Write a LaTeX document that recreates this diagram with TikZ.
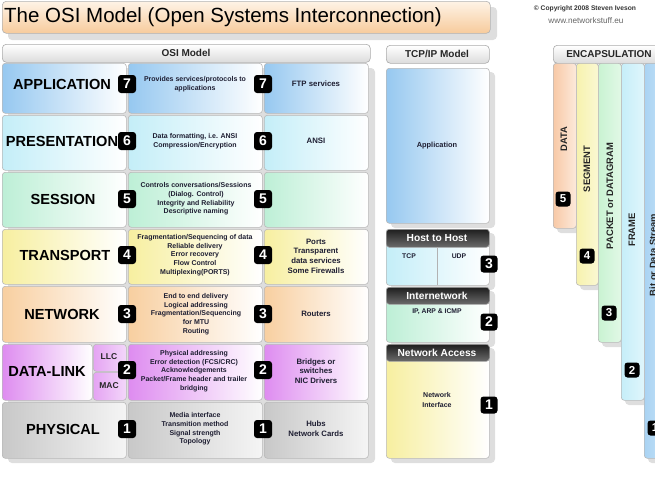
\documentclass[tikz,border=0pt]{standalone}
\usepackage{fontspec}
\setmainfont{Liberation Sans}
\newcommand\myfs[2]{\fontsize{#1}{#2}\selectfont}
\definecolor{cApp}{HTML}{96C8F0}
\definecolor{cPres}{HTML}{C4EEF8}
\definecolor{cSess}{HTML}{BDEFD6}
\definecolor{cTrans}{HTML}{F7EFA0}
\definecolor{cNet}{HTML}{F8CFA0}
\definecolor{cDL}{HTML}{DE8CF0}
\definecolor{cPhys}{HTML}{C8C8C8}
\definecolor{cData}{HTML}{F8C9A6}
\definecolor{cSeg}{HTML}{F7F2AE}
\definecolor{cPack}{HTML}{C9F3D2}
\definecolor{cFrame}{HTML}{C6EEF9}
\definecolor{cBit}{HTML}{A9D3F3}
\definecolor{titletop}{HTML}{FEF3E6}
\definecolor{titlebot}{HTML}{F7CB9C}
\definecolor{txt}{HTML}{1E1E32}
\begin{document}
\begin{tikzpicture}[x=1pt,y=-1pt,
  cellbase/.style={draw=gray!55, line width=0.6pt, rounded corners=3pt, inner sep=0pt, anchor=north west},
  shadowbox/.style={fill=black, opacity=0.13, rounded corners=4pt},
  headbar/.style={cellbase, top color=white, bottom color=gray!28, draw=gray!65, rounded corners=4pt},
  darkhead/.style={cellbase, top color=black!88, bottom color=black!58, draw=gray!70, rounded corners=3pt},
  badge/.style={fill=black, rounded corners=3pt, minimum width=18pt, minimum height=18pt, inner sep=0pt, text=white, font=\bfseries\myfs{14}{14}},
  sbadge/.style={badge, minimum width=15pt, minimum height=15pt, font=\bfseries\myfs{11.5}{11.5}},
  layername/.style={font=\bfseries\myfs{14.6}{16}, text=black, inner sep=0pt},
  desc/.style={font=\bfseries\myfs{7}{8.7}, text=txt, align=center, inner sep=0pt},
  exam/.style={font=\bfseries\myfs{7.8}{9.7}, text=txt, align=center, inner sep=0pt},
  headtxt/.style={font=\bfseries\myfs{10}{10}, text=black!85, inner sep=0pt},
  whitehead/.style={font=\bfseries\myfs{10.2}{10}, text=white, inner sep=0pt},
  tcptxt/.style={font=\bfseries\myfs{6.8}{9}, text=txt, align=center, inner sep=0pt},
  enctxt/.style={font=\bfseries\myfs{9.4}{10}, text=black!85, inner sep=0pt, rotate=90}
]
\useasboundingbox (0,0) rectangle (655,482);
\clip (0,0) rectangle (655,482);
\fill[white] (0,0) rectangle (655,482);

% ---------- title ----------
\fill[shadowbox] (8,7) rectangle (497,40);
\node[cellbase, top color=titletop, bottom color=titlebot, draw=gray!60, rounded corners=4pt, minimum width=488pt, minimum height=32pt] (titlebox) at (2,1) {};
\node[anchor=west, inner sep=0pt, font=\myfs{20.5}{22}] (title) at (4,17) {The OSI Model (Open Systems Interconnection)};
\node[inner sep=0pt, font=\bfseries\myfs{6.7}{7}, text=black!80] (copy1) at (585,9) {© Copyright 2008 Steven Iveson};
\node[inner sep=0pt, font=\myfs{8.2}{9}, text=black!60] (copy2) at (586,21) {www.networkstuff.eu};

% ---------- headers ----------
\node[headbar, minimum width=368pt, minimum height=18pt] (osihead) at (2,44) {};
\node[headtxt] (osiheadtxt) at (186,53) {OSI Model};
\node[headbar, minimum width=103pt, minimum height=18pt] (tcphead) at (386,45) {};
\node[headtxt] (tcpheadtxt) at (437,54) {TCP/IP Model};
\node[headbar, minimum width=120pt, minimum height=18pt] (enchead) at (553,45) {};
\node[headtxt] (encheadtxt) at (609,54) {ENCAPSULATION};

% ---------- OSI table shadow ----------
\fill[shadowbox] (8,68) rectangle (375,463);

% ---------- OSI rows ----------
% Application
\node[cellbase, left color=cApp, right color=white, minimum width=124pt, minimum height=50pt] (appn) at (2,63) {};
\node[cellbase, left color=cApp, right color=white, minimum width=134pt, minimum height=50pt] (appd) at (128,63) {};
\node[cellbase, left color=cApp, right color=white, minimum width=104pt, minimum height=50pt] (appe) at (264,63) {};
% Presentation
\node[cellbase, left color=cPres, right color=white, minimum width=124pt, minimum height=55pt] (presn) at (2,115) {};
\node[cellbase, left color=cPres, right color=white, minimum width=134pt, minimum height=55pt] (presd) at (128,115) {};
\node[cellbase, left color=cPres, right color=white, minimum width=104pt, minimum height=55pt] (prese) at (264,115) {};
% Session
\node[cellbase, left color=cSess, right color=white, minimum width=124pt, minimum height=55pt] (sessn) at (2,172) {};
\node[cellbase, left color=cSess, right color=white, minimum width=134pt, minimum height=55pt] (sessd) at (128,172) {};
\node[cellbase, left color=cSess, right color=white, minimum width=104pt, minimum height=55pt] (sesse) at (264,172) {};
% Transport
\node[cellbase, left color=cTrans, right color=white, minimum width=124pt, minimum height=55pt] (trann) at (2,229) {};
\node[cellbase, left color=cTrans, right color=white, minimum width=134pt, minimum height=55pt] (trand) at (128,229) {};
\node[cellbase, left color=cTrans, right color=white, minimum width=104pt, minimum height=55pt] (trane) at (264,229) {};
% Network
\node[cellbase, left color=cNet, right color=white, minimum width=124pt, minimum height=56pt] (netn) at (2,286) {};
\node[cellbase, left color=cNet, right color=white, minimum width=134pt, minimum height=56pt] (netd) at (128,286) {};
\node[cellbase, left color=cNet, right color=white, minimum width=104pt, minimum height=56pt] (nete) at (264,286) {};
% Data-link
\node[cellbase, left color=cDL, right color=white, minimum width=90pt, minimum height=56pt] (dln) at (2,344) {};
\node[cellbase, left color=cDL!80, right color=cDL!35, minimum width=33pt, minimum height=27pt] (llc) at (93,344) {};
\node[cellbase, left color=cDL!80, right color=cDL!35, minimum width=33pt, minimum height=28pt] (mac) at (93,372) {};
\node[cellbase, left color=cDL, right color=white, minimum width=134pt, minimum height=56pt] (dld) at (128,344) {};
\node[cellbase, left color=cDL, right color=white, minimum width=104pt, minimum height=56pt] (dle) at (264,344) {};
% Physical
\node[cellbase, left color=cPhys, right color=gray!8, minimum width=124pt, minimum height=56pt] (physn) at (2,402) {};
\node[cellbase, left color=cPhys, right color=gray!8, minimum width=134pt, minimum height=56pt] (physd) at (128,402) {};
\node[cellbase, left color=cPhys, right color=gray!8, minimum width=104pt, minimum height=56pt] (physe) at (264,402) {};

% layer names
\node[layername] (tapp) at (62,84) {APPLICATION};
\node[layername] (tpres) at (62,141) {PRESENTATION};
\node[layername] (tsess) at (63,199) {SESSION};
\node[layername] (ttran) at (65,255) {TRANSPORT};
\node[layername] (tnet) at (62,314) {NETWORK};
\node[layername] (tdl) at (47,371) {DATA-LINK};
\node[layername] (tphys) at (63,429) {PHYSICAL};
\node[font=\bfseries\myfs{8.5}{9}, text=black!85, inner sep=0pt] (tllc) at (109,357) {LLC};
\node[font=\bfseries\myfs{8.5}{9}, text=black!85, inner sep=0pt] (tmac) at (109,386) {MAC};

% descriptions
\node[desc] (dapp) at (195,84) {Provides services/protocols to\\applications};
\node[desc] (dpres) at (195,141) {Data formatting, i.e. ANSI\\Compression/Encryption};
\node[desc] (dsess) at (196,199) {Controls conversations/Sessions\\(Dialog. Control)\\Integrity and Reliability\\Descriptive naming};
\node[desc] (dtran) at (195,255) {Fragmentation/Sequencing of data\\Reliable delivery\\Error recovery\\Flow Control\\Multiplexing(PORTS)};
\node[desc] (dnet) at (196,314) {End to end delivery\\Logical addressing\\Fragmentation/Sequencing\\for MTU\\Routing};
\node[desc] (ddl) at (194,371) {Physical addressing\\Error detection (FCS/CRC)\\Acknowledgements\\Packet/Frame header and trailer\\bridging};
\node[desc] (dphys) at (195,429) {Media interface\\Transmition method\\Signal strength\\Topology};

% examples
\node[exam] (eapp) at (316,84) {FTP services};
\node[exam] (epres) at (316,141) {ANSI};
\node[exam] (etran) at (316,256) {Ports\\Transparent\\data services\\Some Firewalls};
\node[exam] (enet) at (316,314) {Routers};
\node[exam] (edl) at (316,371) {Bridges or\\switches\\NIC Drivers};
\node[exam] (ephys) at (316,429) {Hubs\\Network Cards};

% badges
\node[badge] (b7a) at (127,84) {7};
\node[badge] (b7b) at (263,84) {7};
\node[badge] (b6a) at (127,141) {6};
\node[badge] (b6b) at (263,141) {6};
\node[badge] (b5a) at (127,199) {5};
\node[badge] (b5b) at (263,199) {5};
\node[badge] (b4a) at (127,255) {4};
\node[badge] (b4b) at (263,255) {4};
\node[badge] (b3a) at (127,314) {3};
\node[badge] (b3b) at (263,314) {3};
\node[badge] (b2a) at (127,370) {2};
\node[badge] (b2b) at (263,370) {2};
\node[badge] (b1a) at (127,429) {1};
\node[badge] (b1b) at (263,429) {1};

% ---------- TCP/IP model ----------
\fill[shadowbox] (391,72) rectangle (495,228);
\fill[shadowbox] (391,233) rectangle (495,290);
\fill[shadowbox] (391,291) rectangle (495,347);
\fill[shadowbox] (391,348) rectangle (495,463);
\node[cellbase, left color=cApp, right color=white, minimum width=103pt, minimum height=155pt] (tcpapp) at (386,68) {};
\node[tcptxt, font=\bfseries\myfs{7.4}{9}] (tcpapptxt) at (437,146) {Application};

\node[cellbase, left color=cPres, right color=white, minimum width=103pt, minimum height=56pt] (hostbox) at (386,229) {};
\node[darkhead, minimum width=103pt, minimum height=18pt] (hosthead) at (386,229) {};
\node[whitehead] (hostheadtxt) at (437,238.5) {Host to Host};
\coordinate (splittop) at (437,247);
\coordinate (splitbot) at (437,285);
\draw[gray!60, line width=0.6pt] (splittop) -- (splitbot);
\node[tcptxt] (ttcp) at (409,256) {TCP};
\node[tcptxt] (tudp) at (459,256) {UDP};

\node[cellbase, left color=cSess, right color=white, minimum width=103pt, minimum height=55pt] (interbox) at (386,287) {};
\node[darkhead, minimum width=103pt, minimum height=17pt] (interhead) at (386,287) {};
\node[whitehead] (interheadtxt) at (437,295.5) {Internetwork};
\node[tcptxt] (tip) at (437,312) {IP, ARP \& ICMP};

\node[cellbase, left color=cTrans, right color=white, minimum width=103pt, minimum height=114pt] (accbox) at (386,344) {};
\node[darkhead, minimum width=103pt, minimum height=17pt] (acchead) at (386,344) {};
\node[whitehead] (accheadtxt) at (437,352.5) {Network Access};
\node[tcptxt, font=\bfseries\myfs{7}{10}] (tnif) at (437,400) {Network\\Interface};

\node[badge, minimum width=17pt, minimum height=17pt] (tb3) at (489,264) {3};
\node[badge, minimum width=17pt, minimum height=17pt] (tb2) at (489,322) {2};
\node[badge, minimum width=17pt, minimum height=17pt] (tb1) at (489,405) {1};

% ---------- Encapsulation ----------
\fill[shadowbox] (648,70) rectangle (675,463);
\fill[shadowbox] (625,70) rectangle (648,405);
\fill[shadowbox] (602,70) rectangle (625,347);
\fill[shadowbox] (580,70) rectangle (602,290);
\fill[shadowbox] (557,70) rectangle (580,233);
\node[cellbase, left color=cBit, right color=cBit!60, minimum width=26pt, minimum height=395pt] (colbit) at (644,63) {};
\node[cellbase, left color=cFrame, right color=cFrame!55, minimum width=23pt, minimum height=337pt] (colframe) at (621,63) {};
\node[cellbase, left color=cPack, right color=cPack!55, minimum width=23pt, minimum height=279pt] (colpack) at (598,63) {};
\node[cellbase, left color=cSeg, right color=cSeg!55, minimum width=22pt, minimum height=222pt] (colseg) at (576,63) {};
\node[cellbase, left color=cData, right color=cData!40, minimum width=23pt, minimum height=165pt] (coldata) at (553,63) {};
\node[enctxt] (ldata) at (564,139) {DATA};
\node[enctxt] (lseg) at (587,169) {SEGMENT};
\node[enctxt] (lpack) at (610,196) {PACKET or DATAGRAM};
\node[enctxt] (lframe) at (632,230) {FRAME};
\node[enctxt] (lbit) at (653,255) {Bit or Data Stream};
\node[sbadge] (eb5) at (563,199) {5};
\node[sbadge] (eb4) at (587,256) {4};
\node[sbadge] (eb3) at (609,313) {3};
\node[sbadge] (eb2) at (632,370) {2};
\node[sbadge] (eb1) at (655,428) {1};
\end{tikzpicture}
\end{document}
